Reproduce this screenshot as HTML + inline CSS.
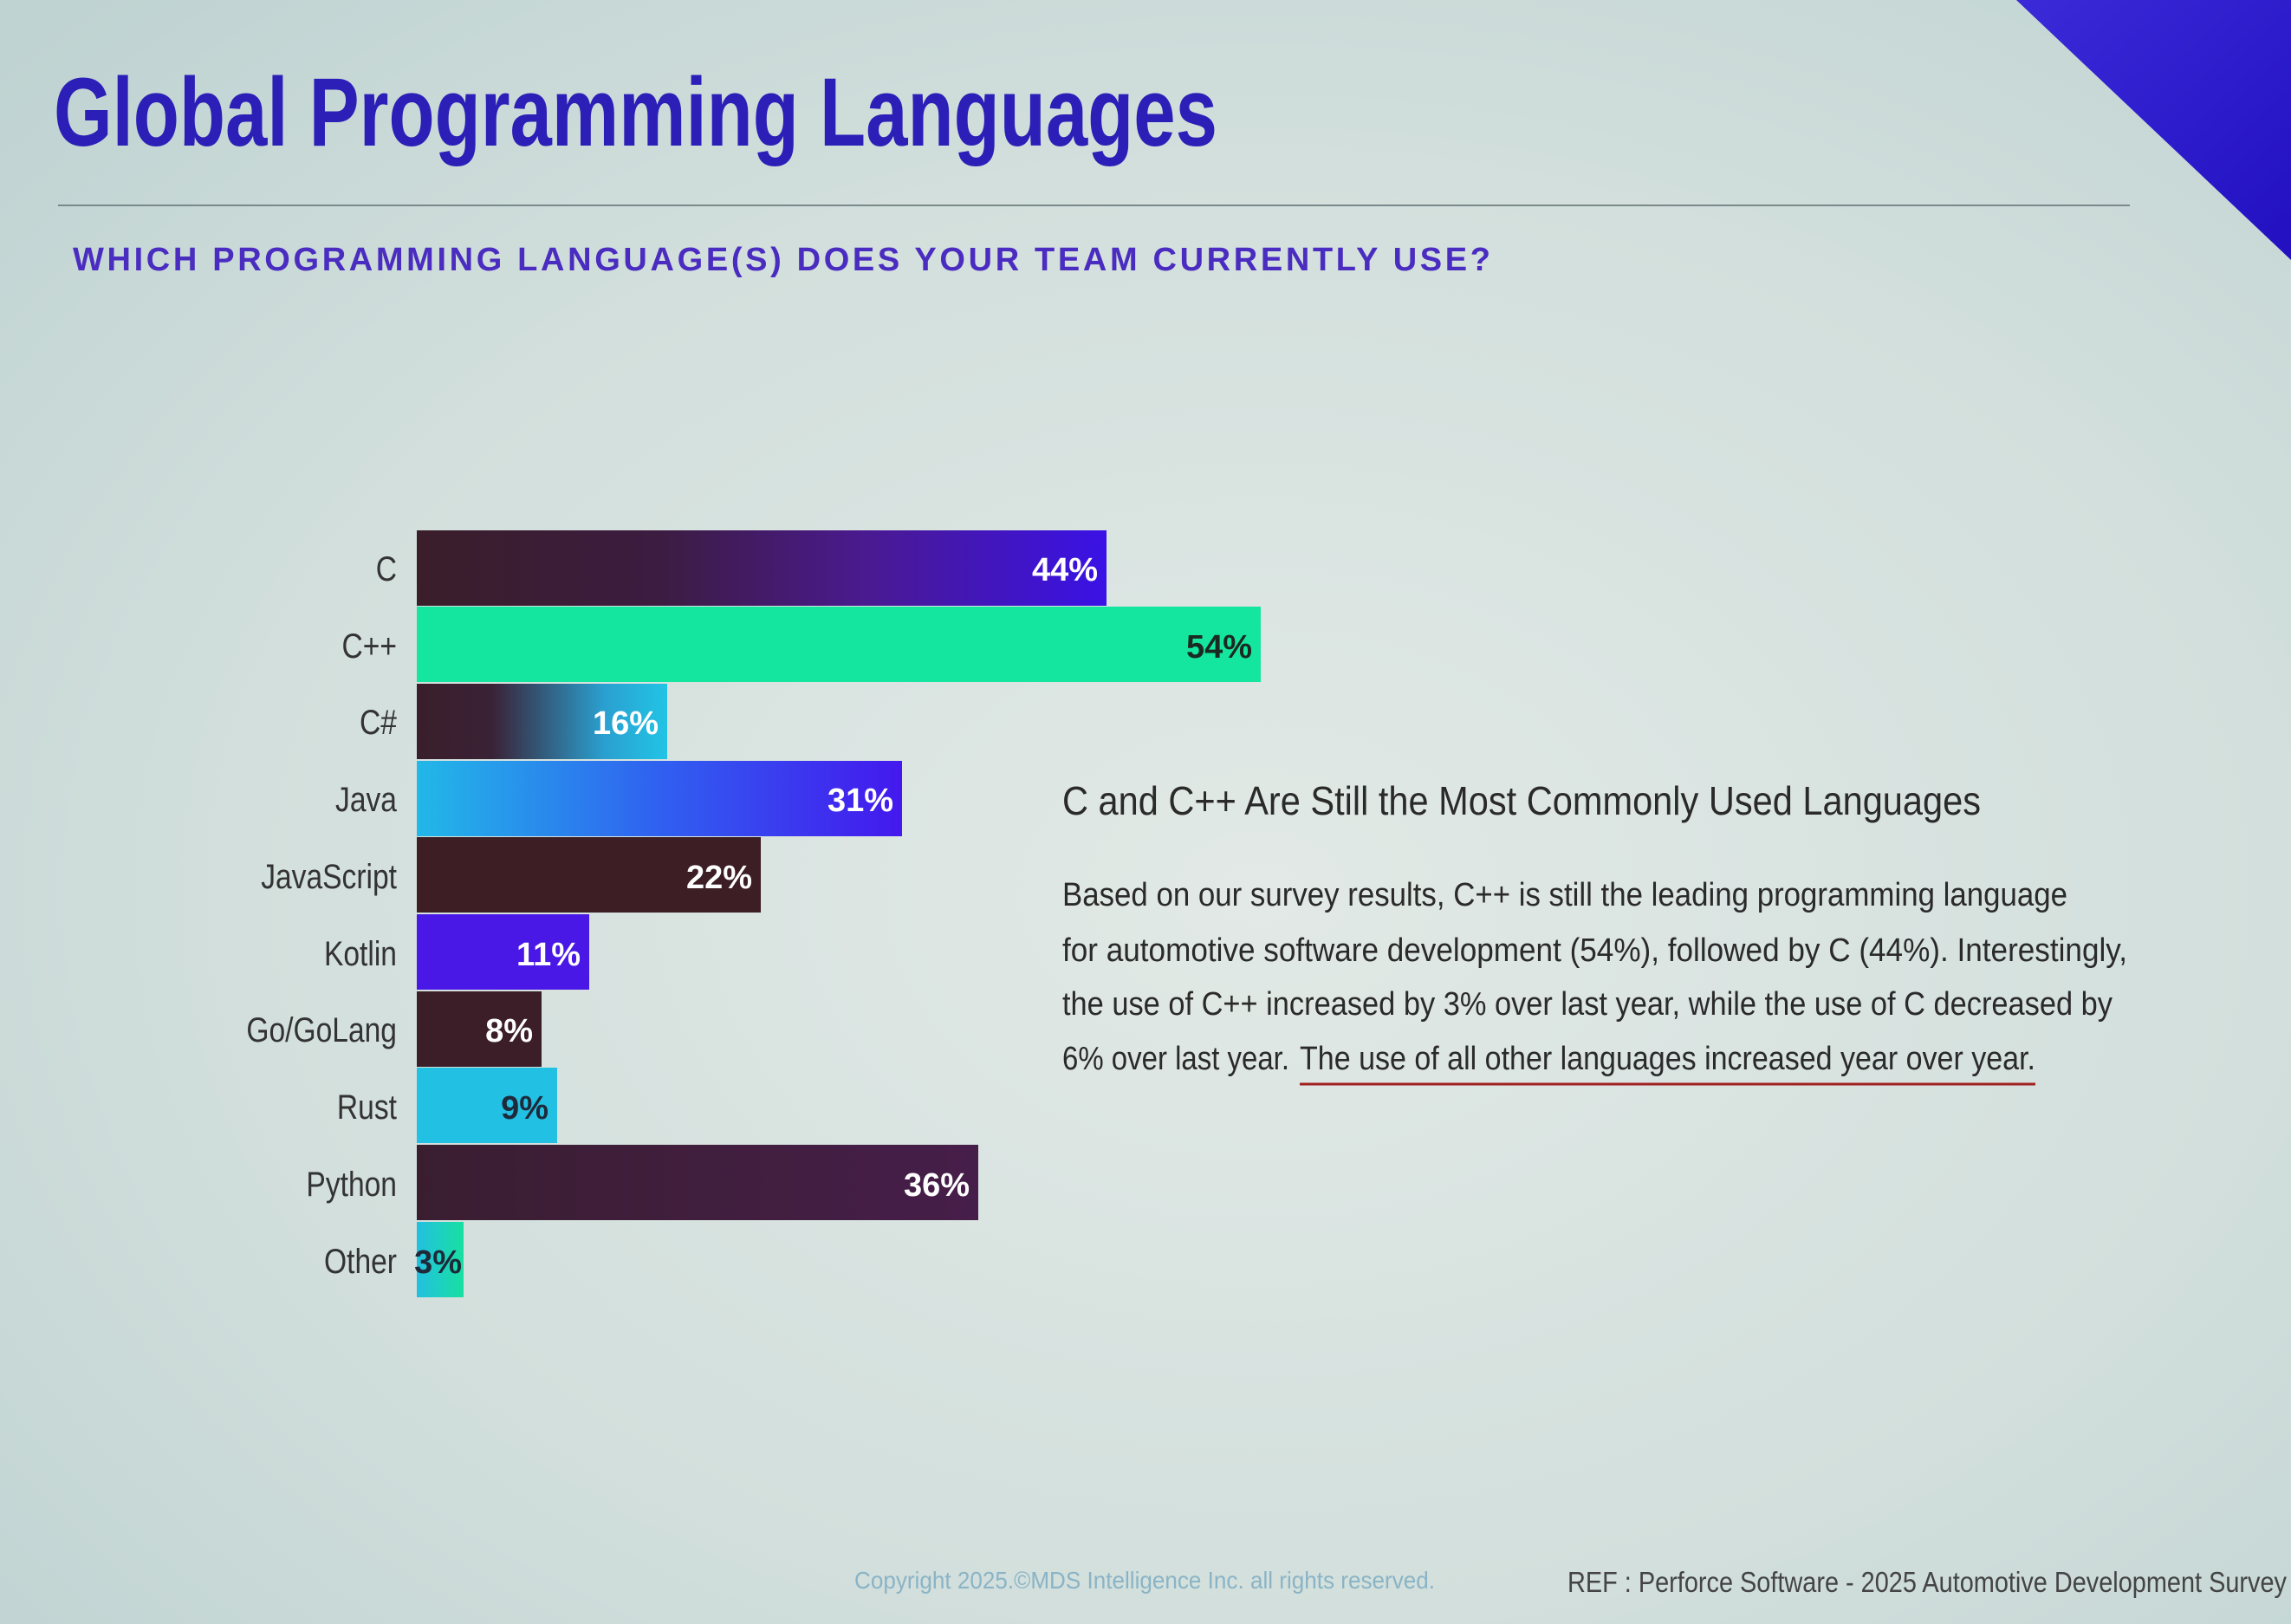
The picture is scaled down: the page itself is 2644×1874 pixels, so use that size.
<!DOCTYPE html>
<html><head><meta charset="utf-8"><style>
html,body{margin:0;padding:0;width:2644px;height:1874px;overflow:hidden}
svg{display:block}
text{font-family:"Liberation Sans",sans-serif}
</style></head><body>
<svg width="2644" height="1874" viewBox="0 0 2644 1874" xmlns="http://www.w3.org/2000/svg">
<defs>
<radialGradient id="bg" cx="0.55" cy="0.55" r="0.75">
<stop offset="0" stop-color="#e2e9e6"/><stop offset="0.6" stop-color="#d2dfdc"/><stop offset="1" stop-color="#bfd3d2"/>
</radialGradient>
<linearGradient id="gC" x1="0" x2="1"><stop offset="0" stop-color="#3a1e2a"/><stop offset="0.35" stop-color="#3c1c40"/><stop offset="0.65" stop-color="#4a1a90"/><stop offset="1" stop-color="#3a12e6"/></linearGradient>
<linearGradient id="gCs" x1="0" x2="1"><stop offset="0" stop-color="#3a1e2a"/><stop offset="0.3" stop-color="#3a2236"/><stop offset="0.75" stop-color="#2aa0d0"/><stop offset="1" stop-color="#22c4e6"/></linearGradient>
<linearGradient id="gJ" x1="0" x2="1"><stop offset="0" stop-color="#22b8e8"/><stop offset="0.5" stop-color="#3060f0"/><stop offset="1" stop-color="#4418ee"/></linearGradient>
<linearGradient id="gP" x1="0" x2="1"><stop offset="0" stop-color="#3a1e30"/><stop offset="1" stop-color="#461e4a"/></linearGradient>
<linearGradient id="gO" x1="0" x2="1"><stop offset="0" stop-color="#22c0e0"/><stop offset="1" stop-color="#18e0a0"/></linearGradient>
<linearGradient id="gT" x1="0" x2="1" y1="0" y2="1"><stop offset="0" stop-color="#3a2ad8"/><stop offset="1" stop-color="#2210c0"/></linearGradient>
</defs>
<rect width="2644" height="1874" fill="url(#bg)"/>
<polygon points="2327,0 2644,0 2644,300" fill="url(#gT)"/>
<text x="62" y="168" font-size="112" font-weight="bold" fill="#2c1fb8" textLength="1343" lengthAdjust="spacingAndGlyphs">Global Programming Languages</text>
<line x1="67" y1="237" x2="2458" y2="237" stroke="#7a8a8c" stroke-width="2"/>
<text x="84" y="312" font-size="38" font-weight="bold" fill="#4a2cc0" textLength="1636" lengthAdjust="spacing">WHICH PROGRAMMING LANGUAGE(S) DOES YOUR TEAM CURRENTLY USE?</text>

<g font-size="40" fill="#333" text-anchor="end" transform="translate(458,0) scale(0.84,1) translate(-458,0)">
<text x="458" y="670">C</text>
<text x="458" y="759">C++</text>
<text x="458" y="847">C#</text>
<text x="458" y="936">Java</text>
<text x="458" y="1025">JavaScript</text>
<text x="458" y="1114">Kotlin</text>
<text x="458" y="1202">Go/GoLang</text>
<text x="458" y="1291">Rust</text>
<text x="458" y="1380">Python</text>
<text x="458" y="1469">Other</text>
</g>
<rect x="481" y="612" width="796" height="87" fill="url(#gC)"/>
<rect x="481" y="700" width="974" height="87" fill="#14e6a0"/>
<rect x="481" y="789" width="289" height="87" fill="url(#gCs)"/>
<rect x="481" y="878" width="560" height="87" fill="url(#gJ)"/>
<rect x="481" y="966" width="397" height="87" fill="#3c1e24"/>
<rect x="481" y="1055" width="199" height="87" fill="#4a18e6"/>
<rect x="481" y="1144" width="144" height="87" fill="#3c1e28"/>
<rect x="481" y="1232" width="162" height="87" fill="#22c0e2"/>
<rect x="481" y="1321" width="648" height="87" fill="url(#gP)"/>
<rect x="481" y="1410" width="54" height="87" fill="url(#gO)"/>
<g font-size="38" font-weight="bold" fill="#fff" text-anchor="end">
<text x="1267" y="670">44%</text>
<text x="1445" y="759" fill="#1a2a22">54%</text>
<text x="760" y="847">16%</text>
<text x="1031" y="936">31%</text>
<text x="868" y="1025">22%</text>
<text x="670" y="1114">11%</text>
<text x="615" y="1202">8%</text>
<text x="633" y="1291" fill="#1e2a3a">9%</text>
<text x="1119" y="1380">36%</text>
<text x="533" y="1469" fill="#1e2a3a">3%</text>
</g>

<text x="1226" y="940" font-size="46" fill="#2a2a2a" textLength="1060" lengthAdjust="spacingAndGlyphs">C and C++ Are Still the Most Commonly Used Languages</text>
<g font-size="38" fill="#2a2a2a">
<text x="1226" y="1045" textLength="1160" lengthAdjust="spacingAndGlyphs">Based on our survey results, C++ is still the leading programming language</text>
<text x="1226" y="1109" textLength="1229" lengthAdjust="spacingAndGlyphs">for automotive software development (54%), followed by C (44%). Interestingly,</text>
<text x="1226" y="1171" textLength="1212" lengthAdjust="spacingAndGlyphs">the use of C++ increased by 3% over last year, while the use of C decreased by</text>
<text x="1226" y="1234" textLength="262" lengthAdjust="spacingAndGlyphs">6% over last year.</text>
<text x="1500" y="1234" textLength="849" lengthAdjust="spacingAndGlyphs">The use of all other languages increased year over year.</text>
</g>
<line x1="1500" y1="1251" x2="2349" y2="1251" stroke="#a02020" stroke-width="3"/>

<text x="986" y="1833" font-size="28" fill="#8ab4c6" textLength="670" lengthAdjust="spacingAndGlyphs">Copyright 2025.©MDS Intelligence Inc. all rights reserved.</text>
<text x="1809" y="1837" font-size="33" fill="#444" textLength="830" lengthAdjust="spacingAndGlyphs">REF : Perforce Software - 2025 Automotive Development Survey</text>
</svg>
</body></html>
